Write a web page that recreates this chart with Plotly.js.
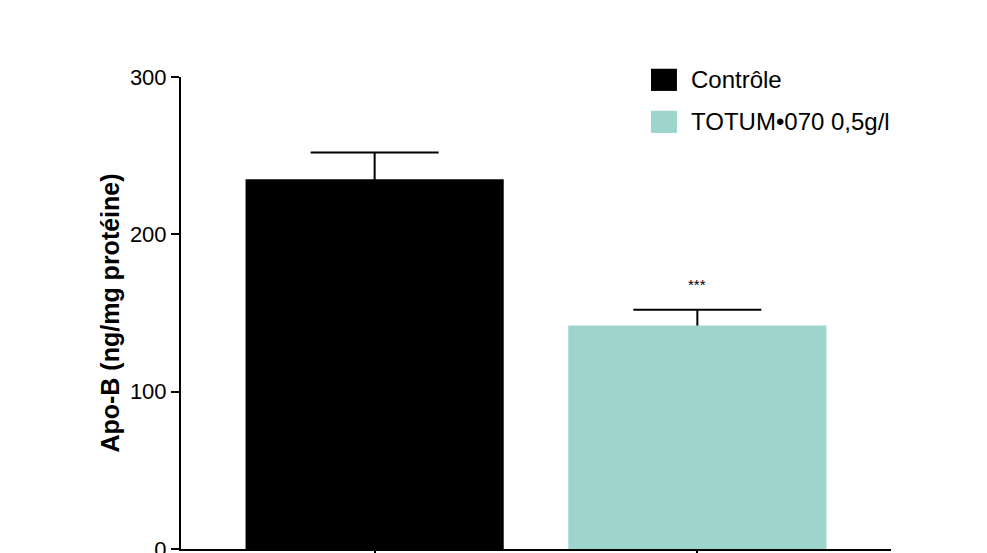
<!DOCTYPE html>
<html>
<head>
<meta charset="utf-8">
<script src="https://cdn.plot.ly/plotly-3.0.1.min.js"></script>
<style>
  html, body { margin: 0; padding: 0; background: #fff; }
  #chart { width: 987px; height: 553px; }
</style>
</head>
<body>
<div id="chart"></div>
<script>
// Apo-B secretion per group (mean with SEM, ng/mg protein)
const groups = ['Contrôle', 'TOTUM•070 0,5g/l'];
const apoB = [235, 142];
const sem = [17, 10];
const significance = ['', '***'];
const barColors = ['#000000', '#9dd4ce'];
const yTicks = [0, 100, 200, 300];

const FONT = 'Liberation Sans, Arial, Helvetica, sans-serif';
const BAR_WIDTH = 0.8;

// SEM whiskers first (transparent bars), so the filled bars drawn next
// hide the lower half of each whisker.
const whiskerTraces = groups.map((g, i) => ({
  type: 'bar',
  name: g + ' SEM',
  x: [i],
  y: [apoB[i]],
  width: BAR_WIDTH,
  marker: { color: 'rgba(0,0,0,0)', line: { width: 0 } },
  error_y: {
    type: 'data',
    array: [sem[i]],
    color: '#000',
    thickness: 2,
    width: 64
  },
  showlegend: false,
  hoverinfo: 'skip'
}));

const barTraces = groups.map((g, i) => ({
  type: 'bar',
  name: g,
  x: [i],
  y: [apoB[i]],
  width: BAR_WIDTH,
  marker: { color: barColors[i], line: { width: 0 } },
  showlegend: false,
  hoverinfo: 'skip'
}));

// Significance stars above the error bars
const annotations = [];
groups.forEach((g, i) => {
  if (significance[i]) {
    annotations.push({
      x: i, y: apoB[i] + sem[i], xref: 'x', yref: 'y',
      text: significance[i], showarrow: false,
      yanchor: 'bottom', yshift: 15,
      font: { family: FONT, size: 15, color: '#000' }
    });
  }
});

// Legend drawn as swatches + labels in the top-right corner
const shapes = [];
const legendRows = [0.994, 0.905];
groups.forEach((g, i) => {
  const yc = legendRows[i];
  shapes.push({
    type: 'rect', xref: 'paper', yref: 'paper',
    x0: 0.662, x1: 0.6985, y0: yc - 0.0235, y1: yc + 0.0235,
    fillcolor: barColors[i], line: { width: 0 }
  });
  annotations.push({
    x: 0.7155, y: yc, xref: 'paper', yref: 'paper',
    xanchor: 'left', yanchor: 'middle', showarrow: false,
    text: g, font: { family: FONT, size: 24, color: '#000' }
  });
});

const layout = {
  width: 987, height: 553,
  margin: { l: 181, r: 96, t: 77, b: 4 },
  paper_bgcolor: '#fff', plot_bgcolor: '#fff',
  font: { family: FONT, color: '#000' },
  barmode: 'overlay',
  xaxis: {
    range: [-0.6, 1.6],
    tickvals: [0, 1], ticktext: ['', ''],
    showgrid: false, zeroline: false,
    showline: true, linecolor: '#000', linewidth: 2,
    ticks: 'outside', ticklen: 8, tickwidth: 2, tickcolor: '#000',
    fixedrange: true
  },
  yaxis: {
    range: [0, 300],
    tickvals: yTicks,
    showgrid: false, zeroline: false,
    showline: true, linecolor: '#000', linewidth: 2,
    ticks: 'outside', ticklen: 8, tickwidth: 2, tickcolor: '#000',
    ticklabeloverflow: 'allow',
    tickfont: { family: FONT, size: 22, color: '#000' },
    title: {
      text: '<b>Apo-B (ng/mg protéine)</b>',
      font: { family: FONT, size: 25, color: '#000' },
      standoff: 3
    },
    fixedrange: true
  },
  shapes: shapes,
  annotations: annotations
};

Plotly.newPlot('chart', whiskerTraces.concat(barTraces), layout,
  { displayModeBar: false, staticPlot: true });
</script>
</body>
</html>
